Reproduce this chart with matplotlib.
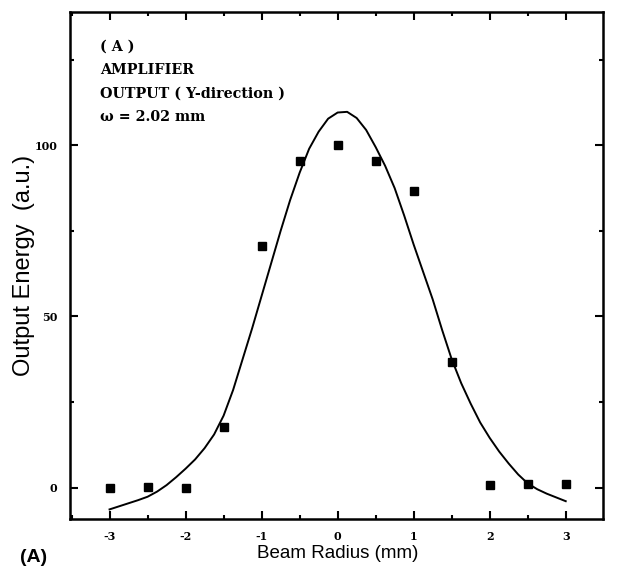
import numpy as np
import matplotlib
matplotlib.use('Agg')
import matplotlib.pyplot as plt
from matplotlib.ticker import MultipleLocator

plt.rcParams['axes.unicode_minus'] = False

# measured points (beam radius in mm, output energy a.u.)
radius = [-3, -2.5, -2, -1.5, -1, -0.5, 0, 0.5, 1, 1.5, 2, 2.5, 3]
energy = [0, 0.2, 0, 17.8, 70.5, 95.3, 100.2, 95.5, 86.8, 36.8, 0.8, 0.9, 0.9]

# fitted curve
fit_x = [-3.0, -2.875, -2.75, -2.625, -2.5, -2.375, -2.25, -2.125, -2.0,
         -1.875, -1.75, -1.625, -1.5, -1.375, -1.25, -1.125, -1.0, -0.875,
         -0.75, -0.625, -0.5, -0.375, -0.25, -0.125, 0.0, 0.125, 0.25, 0.375,
         0.5, 0.625, 0.75, 0.875, 1.0, 1.125, 1.25, 1.375, 1.5, 1.625, 1.75,
         1.875, 2.0, 2.125, 2.25, 2.375, 2.5, 2.625, 2.75, 2.875, 3.0]
fit_y = [-6.4, -5.5, -4.6, -3.7, -2.7, -1.2, 0.7, 3.0, 5.5,
         8.2, 11.5, 15.5, 21, 28.5, 37.5, 46.5, 56, 65.5,
         75, 84, 92, 99, 104, 107.8, 109.6, 109.8, 108, 104.5,
         99.5, 94, 87.5, 79.5, 71, 63, 55, 46, 37.5, 30.5, 24.5,
         19, 14.5, 10.5, 7, 3.8, 1.2, -0.5, -1.8, -2.9, -4.0]

xticks = [-3, -2, -1, 0, 1, 2, 3]
yticks = [0, 50, 100]
notes = ['( A )', 'AMPLIFIER', 'OUTPUT ( Y-direction )', '\u03c9 = 2.02 mm']

fig = plt.figure(figsize=(6.18, 5.71), dpi=100)
ax = fig.add_axes([0.1133, 0.0911, 0.8624, 0.888])

ax.plot(fit_x, fit_y, color='black', lw=1.4)
ax.plot(radius, energy, 's', color='black', ms=5.5)

ax.set_xlim(-3.52, 3.49)
ax.set_ylim(-9.2, 139)
ax.set_xticks(xticks)
ax.set_yticks(yticks)
ax.xaxis.set_minor_locator(MultipleLocator(0.5))
ax.yaxis.set_minor_locator(MultipleLocator(25))
ax.tick_params(which='both', direction='in', top=True, right=True,
               width=1.5, labelsize=8)
ax.tick_params(which='major', length=6)
ax.tick_params(which='minor', length=3)
ax.tick_params(axis='x', pad=9)
ax.tick_params(axis='y', pad=9)
for lab in ax.get_xticklabels() + ax.get_yticklabels():
    lab.set_family('DejaVu Serif')
    lab.set_fontweight('bold')
for sp in ax.spines.values():
    sp.set_linewidth(1.8)

# axis titles
fig.text(338 / 618, 1 - 553 / 571, 'Beam Radius (mm)', fontsize=13.5,
         family='Liberation Sans', ha='center', va='center')
fig.text(24 / 618, 1 - 265 / 571, 'Output Energy  (a.u.)', fontsize=17,
         family='Liberation Sans', rotation=90, ha='center', va='center')

for i, t in enumerate(notes):
    fig.text(100 / 618, 1 - (46.5 + 23.5 * i) / 571, t, family='DejaVu Serif',
             fontweight='bold', fontsize=10.3, va='center', ha='left')

fig.text(20 / 618, 1 - 558 / 571, '(A)', family='Liberation Sans',
         fontweight='bold', fontsize=14, va='center', ha='left')

fig.savefig('out.png', dpi=100)
